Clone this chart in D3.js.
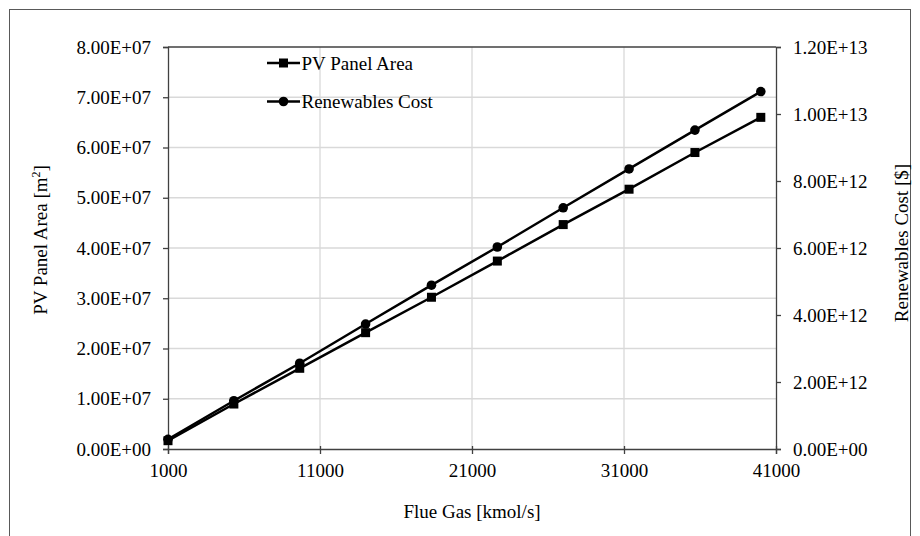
<!DOCTYPE html>
<html lang="en">
<head>
    <meta charset="UTF-8">
    <script src="https://d3js.org/d3.v7.min.js"></script>
    <title>PV Panel Area and Renewables Cost</title>
    <style>
        body { margin: 0; background: #fff; }
        text { font-family: "Liberation Serif", "Times New Roman", serif; fill: #000; }
        .grid line { stroke: #d9d9d9; stroke-width: 1.3; }
    </style>
</head>
<body>
<div id="chart"></div>
<script>
// Flue gas flow (kmol/s)
const flueGas = [1000, 5333, 9667, 14000, 18333, 22667, 27000, 31333, 35667, 40000];
// PV panel area (m2), left axis
const pvArea = [1.65e6, 8.95e6, 1.606e7, 2.315e7, 3.02e7, 3.74e7, 4.466e7, 5.17e7, 5.90e7, 6.60e7];
// Renewables cost ($), right axis
const renewCost = [2.9e11, 1.44e12, 2.56e12, 3.73e12, 4.89e12, 6.03e12, 7.2e12, 8.36e12, 9.52e12, 1.067e13];

const xTicks = [1000, 11000, 21000, 31000, 41000];
const yLeftTicks = [0, 1e7, 2e7, 3e7, 4e7, 5e7, 6e7, 7e7, 8e7];
const yRightTicks = [0, 2e12, 4e12, 6e12, 8e12, 1e13, 1.2e13];

const W = 920, H = 536;
const plot = { left: 168, right: 776, top: 47, bottom: 449 };

const svg = d3.select("#chart").append("svg")
    .attr("width", W)
    .attr("height", H);

// outer chart frame
svg.append("rect")
    .attr("x", 9.5).attr("y", 9.5)
    .attr("width", 901).attr("height", 540)
    .attr("fill", "none")
    .attr("stroke", "#595959")
    .attr("stroke-width", 1);

const x = d3.scaleLinear().domain([1000, 41000]).range([plot.left, plot.right]);
const yL = d3.scaleLinear().domain([0, 8e7]).range([plot.bottom, plot.top]);
const yR = d3.scaleLinear().domain([0, 1.2e13]).range([plot.bottom, plot.top]);

const fmtE = v => {
    const s = v.toExponential(2).toUpperCase(); // e.g. 8.00E+7
    return s.replace(/E([+-])(\d)$/, "E$10$2");
};

// gridlines
svg.append("g").attr("class", "grid")
    .selectAll("line").data(yLeftTicks.slice(1, -1)).enter().append("line")
    .attr("x1", plot.left).attr("x2", plot.right)
    .attr("y1", d => yL(d)).attr("y2", d => yL(d));
svg.append("g").attr("class", "grid")
    .selectAll("line").data(xTicks.slice(1, -1)).enter().append("line")
    .attr("x1", d => x(d)).attr("x2", d => x(d))
    .attr("y1", plot.top).attr("y2", plot.bottom);

// top border line of plot
svg.append("line")
    .attr("x1", plot.left).attr("x2", plot.right)
    .attr("y1", plot.top).attr("y2", plot.top)
    .attr("stroke", "#404040").attr("stroke-width", 1.3);

// axes
const styleAxis = g => {
    g.attr("font-family", null);
    g.select(".domain").attr("stroke", "#404040").attr("stroke-width", 1.3);
    g.selectAll(".tick line").attr("stroke", "#404040").attr("stroke-width", 1.3);
    g.selectAll(".tick text").style("font-size", "19px").attr("fill", "#000");
};

svg.append("g")
    .attr("transform", `translate(0,${plot.bottom})`)
    .call(d3.axisBottom(x).tickValues(xTicks).tickFormat(d3.format("d")).tickSizeOuter(0).tickSize(5).tickPadding(10))
    .call(styleAxis)
    .call(g => g.selectAll(".tick line").attr("y1", -3));

svg.append("g")
    .attr("transform", `translate(${plot.left},0)`)
    .call(d3.axisLeft(yL).tickValues(yLeftTicks).tickFormat(fmtE).tickSizeOuter(0).tickSize(5).tickPadding(12))
    .call(styleAxis);

svg.append("g")
    .attr("transform", `translate(${plot.right},0)`)
    .call(d3.axisRight(yR).tickValues(yRightTicks).tickFormat(fmtE).tickSizeOuter(0).tickSize(5).tickPadding(12))
    .call(styleAxis);

// series lines
const ptsA = flueGas.map((g, i) => [x(g), yL(pvArea[i])]);
const ptsC = flueGas.map((g, i) => [x(g), yR(renewCost[i])]);
const line = d3.line();

svg.append("path").attr("d", line(ptsA))
    .attr("fill", "none").attr("stroke", "#000").attr("stroke-width", 2.5);
svg.append("path").attr("d", line(ptsC))
    .attr("fill", "none").attr("stroke", "#000").attr("stroke-width", 2.5);

svg.append("g").selectAll("rect").data(ptsA).enter().append("rect")
    .attr("x", d => d[0] - 4.5).attr("y", d => d[1] - 4.5)
    .attr("width", 9).attr("height", 9).attr("fill", "#000");
svg.append("g").selectAll("circle").data(ptsC).enter().append("circle")
    .attr("cx", d => d[0]).attr("cy", d => d[1]).attr("r", 4.8).attr("fill", "#000");

// legend
const legend = svg.append("g");
const legItems = [
    { name: "PV Panel Area", y: 63, shape: "square" },
    { name: "Renewables Cost", y: 101.5, shape: "circle" }
];
legItems.forEach(it => {
    legend.append("line")
        .attr("x1", 267).attr("x2", 300).attr("y1", it.y).attr("y2", it.y)
        .attr("stroke", "#000").attr("stroke-width", 2.5);
    if (it.shape === "square") {
        legend.append("rect").attr("x", 279).attr("y", it.y - 4.5)
            .attr("width", 9).attr("height", 9).attr("fill", "#000");
    } else {
        legend.append("circle").attr("cx", 283.5).attr("cy", it.y).attr("r", 4.8).attr("fill", "#000");
    }
    legend.append("text")
        .attr("x", 301.5).attr("y", it.y + 6.5)
        .style("font-size", "19px")
        .text(it.name);
});

// axis titles
svg.append("text")
    .attr("x", (plot.left + plot.right) / 2).attr("y", 518)
    .attr("text-anchor", "middle")
    .style("font-size", "19px")
    .text("Flue Gas [kmol/s]");

const leftTitle = svg.append("text")
    .attr("transform", "translate(47,240) rotate(-90)")
    .attr("text-anchor", "middle")
    .style("font-size", "19px");
leftTitle.append("tspan").text("PV Panel Area [m");
leftTitle.append("tspan").attr("dy", -7).style("font-size", "12px").text("2");
leftTitle.append("tspan").attr("dy", 7).text("]");

svg.append("text")
    .attr("transform", "translate(908,243) rotate(-90)")
    .attr("text-anchor", "middle")
    .style("font-size", "19px")
    .text("Renewables Cost [$]");
</script>
</body>
</html>
